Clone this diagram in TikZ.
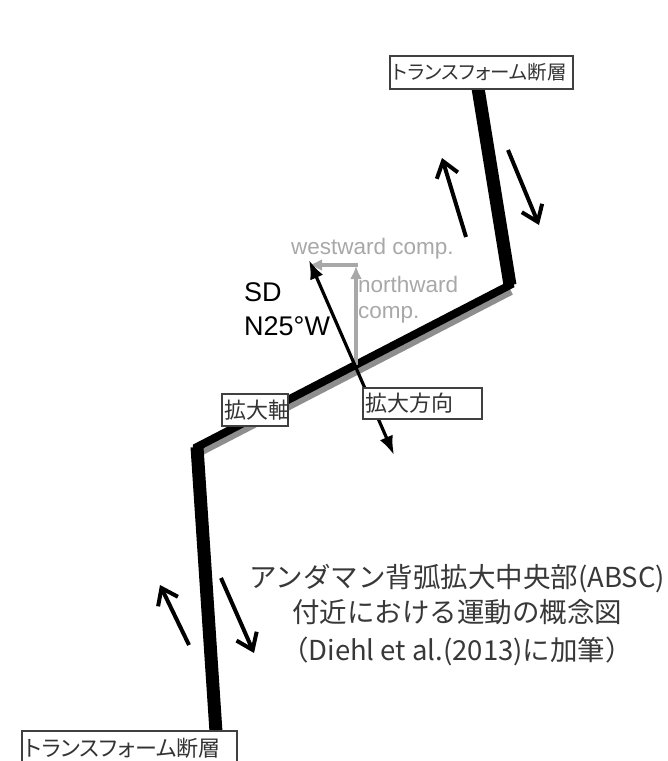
\documentclass[tikz,border=0pt]{standalone}
\usepackage{fontspec}
\setmainfont{Liberation Sans}
\newfontfamily\jpfont[RawFeature=+palt]{Noto Sans CJK JP}
\newfontfamily\capfont{Noto Sans CJK JP}
\usetikzlibrary{arrows.meta}
\definecolor{shadowgray}{HTML}{8E8E8E}
\definecolor{compgray}{HTML}{A8A8A8}
\definecolor{boxedge}{HTML}{404040}
\definecolor{captext}{HTML}{383838}
\tikzset{
  fault/.style={line width=13pt, draw=black},
  ridge/.style={line width=8pt, draw=black, line join=miter},
  ridgeshadow/.style={line width=8pt, draw=shadowgray},
  slip/.style={-{Straight Barb[length=15pt, width=22pt]}, line width=4pt, draw=black},
  sdarrow/.style={{Latex[length=19pt, width=14pt]}-{Latex[length=19pt, width=14pt]}, line width=3.2pt, draw=black},
  comparrow/.style={-{Latex[length=13pt, width=12pt]}, line width=4pt, draw=compgray},
  lblbox/.style={draw=boxedge, line width=1.5pt, fill=white, anchor=north west, inner xsep=3pt,
    align=left, font=\jpfont\fontsize{22}{26}\selectfont, text=black!80},
  comptxt/.style={anchor=west, inner sep=0pt, text=compgray, font=\fontsize{22.5}{26}\selectfont},
  sdtxt/.style={anchor=west, inner sep=0pt, text=black, font=\fontsize{27}{30}\selectfont},
  caption/.style={text=captext, font=\capfont\fontsize{27.5}{35}\selectfont, align=center, inner sep=0pt},
}
\begin{document}
\begin{tikzpicture}[x=1pt, y=-1pt]
  \useasboundingbox (0,0) rectangle (668,761);

  % fault and ridge corners
  \coordinate (tfN) at (478,88);
  \coordinate (ridgeE) at (510,285);
  \coordinate (ridgeW) at (197,447);
  \coordinate (tfS) at (216,732);
  \coordinate (ctr) at (356,365);

  % ridge axis with grey shadow
  \draw[ridgeshadow] ([shift={(1,6)}]ridgeE) -- ([shift={(1,6)}]ridgeW);
  \draw[ridge] (tfN) -- (ridgeE) -- (ridgeW) -- (tfS);
  \draw[fault] (tfN) -- (ridgeE);
  \draw[fault] (ridgeW) -- (tfS);

  % slip arrows along the transform faults
  \coordinate (nwTail) at (466,237);
  \coordinate (nwHead) at (442,158);
  \coordinate (neTail) at (508,150);
  \coordinate (neHead) at (539,225);
  \coordinate (swTail) at (189,645);
  \coordinate (swHead) at (160,585);
  \coordinate (seTail) at (221,578);
  \coordinate (seHead) at (254,653);
  \draw[slip] (nwTail) -- (nwHead);
  \draw[slip] (neTail) -- (neHead);
  \draw[slip] (swTail) -- (swHead);
  \draw[slip] (seTail) -- (seHead);

  % components of the spreading direction
  \coordinate (compTop) at (356,265);
  \coordinate (compLeft) at (309,265);
  \draw[comparrow] (ctr) -- ([yshift=-1]compTop);
  \draw[comparrow, -] ([xshift=2]compTop) -- (compTop);
  \draw[comparrow] (compTop) -- (compLeft);

  % spreading direction
  \coordinate (sdN) at (309,260);
  \coordinate (sdS) at (394,455);
  \draw[sdarrow] (sdN) -- (sdS);

  % texts
  \node[comptxt] (westLbl) at (291,249) {westward comp.};
  \node[comptxt] (northLbl) at (358,284) {northward};
  \node[comptxt] (compLbl) at (358,315) {comp.};
  \node[sdtxt] (sdLbl) at (244,292) {SD};
  \node[sdtxt] (azLbl) at (244,326) {N25°W};

  % label boxes
  \node[lblbox, text width=177pt, minimum height=33pt, font=\jpfont\fontsize{19.5}{26}\selectfont] (tfTop) at (389,55) {トランスフォーム断層};
  \node[lblbox, text width=209pt, minimum height=36pt] (tfBot) at (21,730) {トランスフォーム断層};
  \node[lblbox, text width=60pt, minimum height=32pt] (axisBox) at (221,393) {拡大軸};
  \node[lblbox, text width=113pt, minimum height=31pt] (dirBox) at (362,387) {拡大方向};

  % caption
  \node[caption] (capLbl) at (457,615) {アンダマン背弧拡大中央部(ABSC)\\付近における運動の概念図\\[3pt]（Diehl et al.(2013)に加筆）};
\end{tikzpicture}
\end{document}
